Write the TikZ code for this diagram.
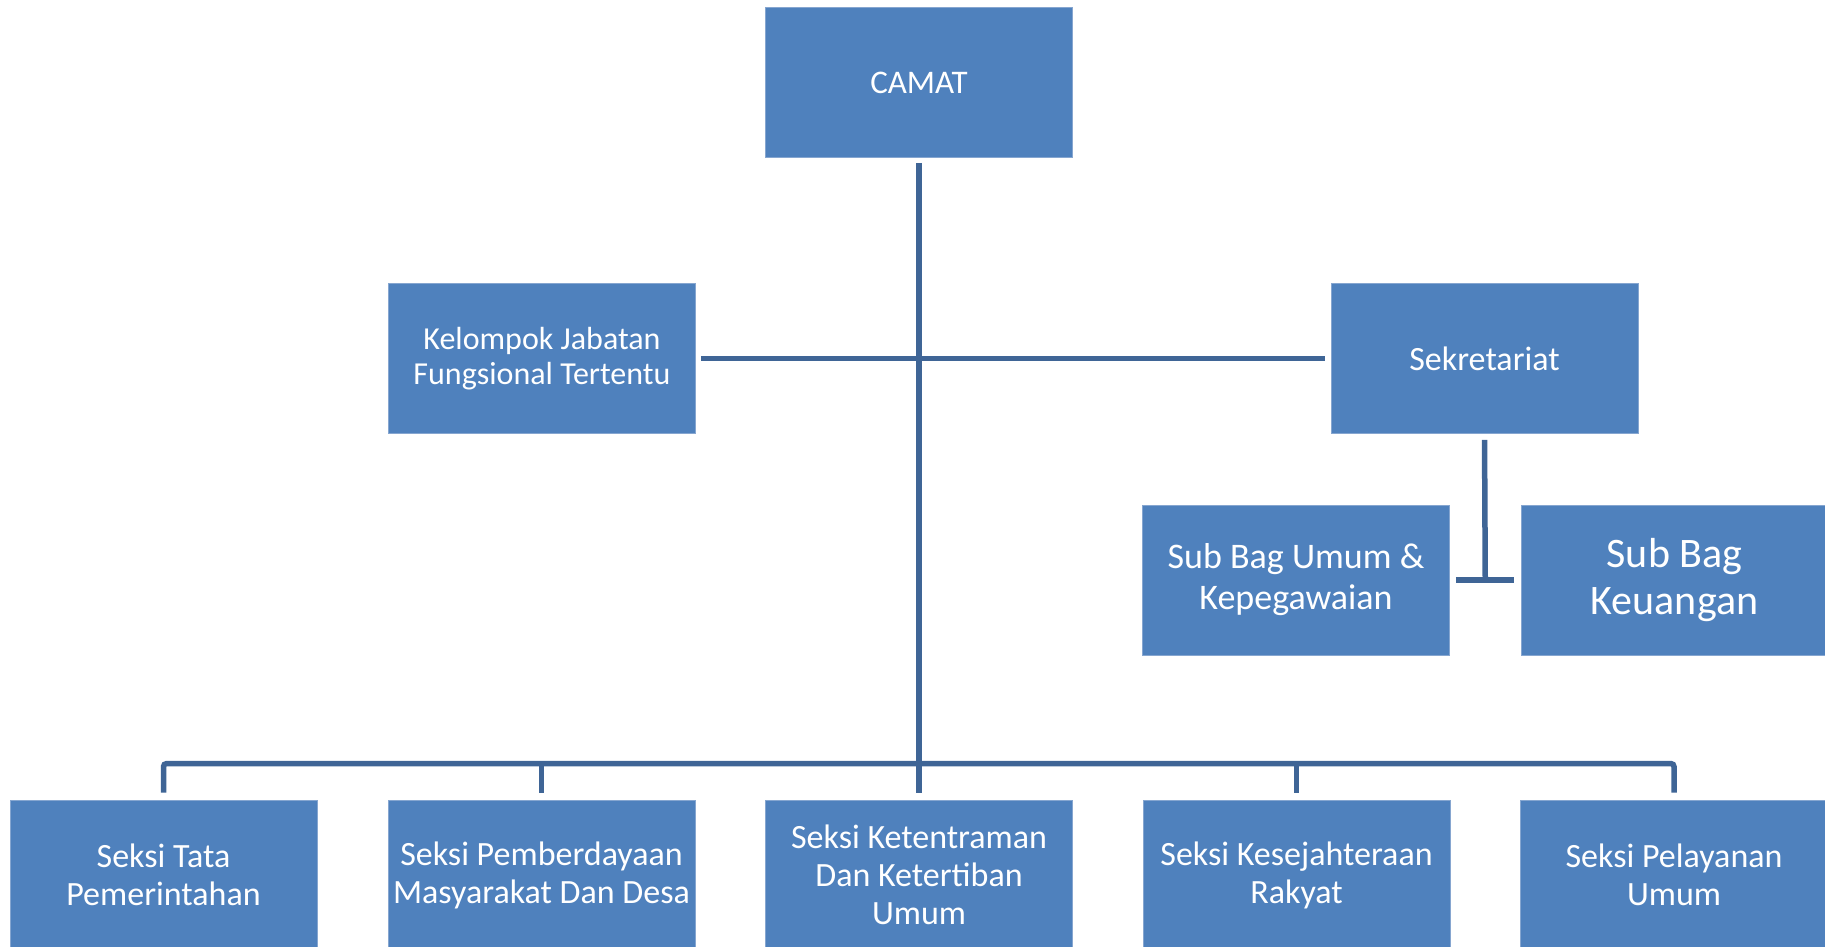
\documentclass[tikz,border=0pt]{standalone}
\usepackage{fontspec}
\setmainfont{Carlito}
\usetikzlibrary{calc}
\definecolor{boxblue}{HTML}{4F81BD}
\definecolor{boxedge}{HTML}{86A6D0}
\definecolor{linkblue}{HTML}{3F6596}
\tikzset{
  orgbox/.style={rectangle, fill=boxblue, draw=boxedge, line width=0.8pt,
    minimum width=307pt, minimum height=150pt, inner sep=0pt,
    text=white, align=center},
  fA/.style={font=\fontsize{33}{37}\selectfont},
  fB/.style={font=\fontsize{32}{35}\selectfont},
  fC/.style={font=\fontsize{34}{38}\selectfont},
  fD/.style={font=\fontsize{36}{41}\selectfont},
  fE/.style={font=\fontsize{42}{47}\selectfont},
  conn/.style={draw=linkblue, line width=5.5pt}
}
\begin{document}
\begin{tikzpicture}[x=1pt,y=-1pt]
\useasboundingbox (0,0) rectangle (1825,947);
\clip (0,0) rectangle (1825,947);
\node[orgbox,fA] (camat) at (919,82.5) {CAMAT};
\node[orgbox,fB] (kel) at (542,358.5) {Kelompok Jabatan\\Fungsional Tertentu};
\node[orgbox,fC] (sek) at (1484.5,358.5) {Sekretariat};
\node[orgbox,fD] (sub1) at (1296,580) {Sub Bag Umum \&\\Kepegawaian};
\node[orgbox,fE] (sub2) at (1674.5,580) {Sub Bag\\Keuangan};
\node[orgbox,fC] (s1) at (163.5,875) {Seksi Tata\\Pemerintahan};
\node[orgbox,fC] (s2) at (541.5,875) {Seksi Pemberdayaan\\Masyarakat Dan Desa};
\node[orgbox,fC] (s3) at (919,875) {Seksi Ketentraman\\Dan Ketertiban\\Umum};
\node[orgbox,fC] (s4) at (1296.5,875) {Seksi Kesejahteraan\\Rakyat};
\node[orgbox,fC] (s5) at (1674,875) {Seksi Pelayanan\\Umum};
% main vertical
\draw[conn, shorten <=5pt, shorten >=7pt] (camat.south) -- (s3.north);
% level 2 horizontal
\draw[conn, shorten <=5pt, shorten >=6pt] (kel.east) -- (sek.west);
% sekretariat branch
\coordinate (subjoin) at ($(sub1.east)!.5!(sub2.west)$);
\draw[conn, shorten <=6pt] (sek.south) -- (subjoin);
\draw[conn, shorten <=6pt, shorten >=7pt] (sub1.east) -- (sub2.west);
% bottom bar
\draw[conn, rounded corners=3pt, shorten <=7pt, shorten >=7pt]
  (s1.north) -- ([yshift=36pt]s1.north) -- ([yshift=36pt]s5.north) -- (s5.north);
\draw[conn, shorten >=7pt] ([yshift=36pt]s2.north) -- (s2.north);
\draw[conn, shorten >=7pt] ([yshift=36pt]s4.north) -- (s4.north);
\end{tikzpicture}
\end{document}
